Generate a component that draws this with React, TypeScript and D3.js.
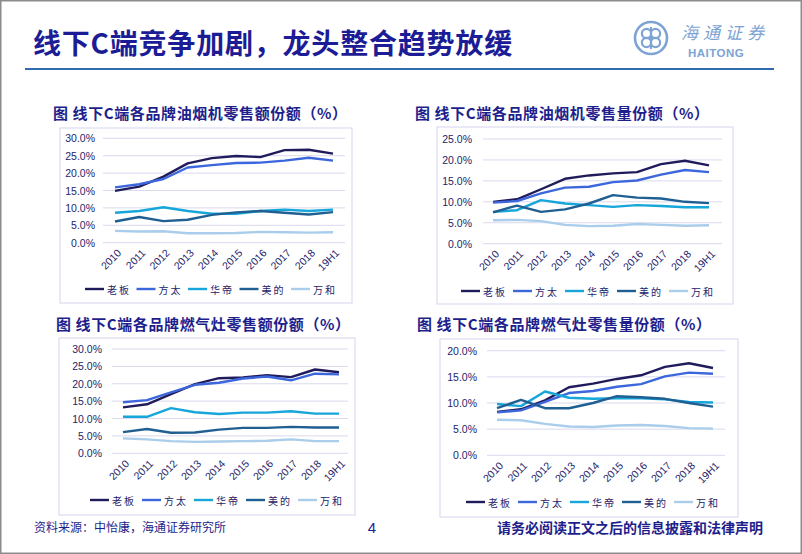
import React from 'react';
import * as d3 from 'd3';

const years = ['2010', '2011', '2012', '2013', '2014', '2015', '2016', '2017', '2018', '19H1'];
const brands = ['老板', '方太', '华帝', '美的', '万和'];
const brandColors = ['#201c5c', '#3c67dc', '#17a6da', '#1f5f92', '#a9cdea'];

// 油烟机零售额份额
const hoodAmtLaoban = [14.9, 16.1, 19.0, 22.8, 24.3, 24.9, 24.6, 26.6, 26.7, 25.6];
const hoodAmtFotile = [15.9, 16.8, 18.3, 21.6, 22.3, 22.9, 23.0, 23.6, 24.4, 23.6];
const hoodAmtVatti = [8.6, 9.1, 10.2, 9.1, 8.3, 8.3, 9.1, 9.5, 9.1, 9.5];
const hoodAmtMidea = [6.1, 7.4, 6.2, 6.6, 8.0, 8.7, 9.1, 8.6, 8.1, 8.8];
const hoodAmtWanhe = [3.4, 3.2, 3.3, 2.7, 2.7, 2.8, 3.1, 3.0, 2.9, 3.0];

// 油烟机零售量份额
const hoodVolLaoban = [10.0, 10.6, 13.0, 15.5, 16.3, 16.8, 17.1, 19.0, 19.8, 18.7];
const hoodVolFotile = [9.8, 10.2, 12.0, 13.4, 13.6, 14.7, 15.1, 16.5, 17.6, 17.1];
const hoodVolVatti = [7.6, 8.0, 10.4, 9.6, 9.2, 8.8, 9.2, 9.0, 8.7, 8.7];
const hoodVolMidea = [7.5, 9.1, 7.6, 8.2, 9.6, 11.6, 11.0, 10.8, 10.0, 9.7];
const hoodVolWanhe = [5.6, 5.7, 5.4, 4.5, 4.2, 4.3, 4.7, 4.5, 4.3, 4.4];

// 燃气灶零售额份额
const stoveAmtLaoban = [13.2, 14.1, 17.0, 19.9, 21.6, 21.8, 22.5, 21.9, 24.1, 23.3];
const stoveAmtFotile = [14.7, 15.3, 17.5, 19.7, 20.3, 21.5, 22.1, 21.0, 22.9, 22.7];
const stoveAmtVatti = [10.5, 10.5, 13.0, 11.8, 11.3, 11.7, 11.7, 12.1, 11.4, 11.4];
const stoveAmtMidea = [6.1, 7.0, 5.9, 6.0, 6.8, 7.3, 7.3, 7.6, 7.4, 7.4];
const stoveAmtWanhe = [4.3, 4.0, 3.5, 3.3, 3.4, 3.5, 3.6, 4.0, 3.5, 3.5];

// 燃气灶零售量份额
const stoveVolLaoban = [8.3, 8.8, 10.5, 13.0, 13.7, 14.6, 15.3, 16.9, 17.6, 16.7];
const stoveVolFotile = [8.2, 8.6, 10.2, 11.9, 12.3, 13.1, 13.6, 15.1, 15.8, 15.6];
const stoveVolVatti = [9.8, 9.4, 12.2, 11.0, 10.8, 10.9, 10.9, 10.7, 10.2, 10.1];
const stoveVolMidea = [9.0, 10.6, 9.0, 9.0, 10.0, 11.3, 11.1, 10.8, 10.0, 9.3];
const stoveVolWanhe = [6.8, 6.7, 6.0, 5.5, 5.4, 5.7, 5.8, 5.6, 5.2, 5.1];

const ticks30 = [0, 5, 10, 15, 20, 25, 30];
const ticks25 = [0, 5, 10, 15, 20, 25];
const ticks20 = [0, 5, 10, 15, 20];

const NAVY = '#1e1e8c';
const TICK = '#24246a';
const GRID = '#d9d9ef';
const CJK = '"Noto Sans CJK SC", "Noto Sans", sans-serif';
const LAT = '"Liberation Sans", Arial, sans-serif';

type PanelProps = {
  title: string;
  titleX: number;
  titleY: number;
  box: [number, number, number, number];
  series: number[][];
  ticks: number[];
  labelX: number;
  gridX: [number, number];
  yRange: [number, number];
  xRange: [number, number];
  legendX: number;
  legendY: number;
  legendStep: number;
};

function Panel(p: PanelProps) {
  const x = d3.scalePoint<string>().domain(years).range(p.xRange);
  const yMax = p.ticks[p.ticks.length - 1];
  const y = d3.scaleLinear().domain([0, yMax]).range(p.yRange);
  const line = d3
    .line<number>()
    .x((_, i) => x(years[i]) as number)
    .y((d) => y(d));
  const [bx0, by0, bx1, by1] = p.box;
  return (
    <g>
      <text x={p.titleX} y={p.titleY} fontFamily={CJK} fontWeight="bold" fontSize={15} letterSpacing={0.6} fill={NAVY} dominantBaseline="central">
        {p.title}
      </text>
      <rect x={bx0} y={by0} width={bx1 - bx0} height={by1 - by0} fill="#fff" stroke="#dcdcf0" strokeWidth={1.2} />
      {p.ticks.map((t) => (
        <g key={t}>
          <line x1={p.gridX[0]} x2={p.gridX[1]} y1={y(t)} y2={y(t)} stroke={GRID} strokeWidth={1} />
          <text x={p.labelX} y={y(t)} textAnchor="end" dominantBaseline="central" fontFamily={LAT} fontSize={10.5} fill={TICK}>
            {t.toFixed(1) + '%'}
          </text>
        </g>
      ))}
      {years.map((yr) => (
        <text
          key={yr}
          transform={`translate(${(x(yr) as number) + 7},${p.yRange[0] + 11}) rotate(-45)`}
          textAnchor="end"
          fontFamily={LAT}
          fontSize={10.5}
          fill={TICK}
        >
          {yr}
        </text>
      ))}
      {p.series.map((s, i) => (
        <path key={i} d={line(s) || ''} fill="none" stroke={brandColors[i]} strokeWidth={2.4} strokeLinejoin="round" />
      ))}
      {brands.map((b, i) => {
        const lx = p.legendX + i * p.legendStep;
        return (
          <g key={b}>
            <line x1={lx} x2={lx + 19} y1={p.legendY} y2={p.legendY} stroke={brandColors[i]} strokeWidth={2.4} />
            <text x={lx + 22} y={p.legendY} dominantBaseline="central" fontFamily={CJK} fontSize={10} letterSpacing={2} fill={TICK}>
              {b}
            </text>
          </g>
        );
      })}
    </g>
  );
}

function Logo() {
  const cx = 651;
  const cy = 38;
  const c = '#7ca3d3';
  return (
    <g>
      <circle cx={cx} cy={cy} r={16} fill="none" stroke={c} strokeWidth={2.6} />
      {[[-4.5, -4.5], [4.5, -4.5], [-4.5, 4.5], [4.5, 4.5]].map(([dx, dy], i) => (
        <circle key={i} cx={cx + dx} cy={cy + dy} r={4.6} fill="none" stroke={c} strokeWidth={2.2} />
      ))}
      <line x1={cx} y1={cy - 11} x2={cx} y2={cy + 11} stroke={c} strokeWidth={2} />
      <text x={681} y={31} fontFamily={CJK} fontStyle="italic" fontSize={17} letterSpacing={5} fill={c} dominantBaseline="central">
        海通证券
      </text>
      <text x={688} y={53} fontFamily={LAT} fontWeight="bold" fontSize={11.5} letterSpacing={0.5} fill={c} dominantBaseline="central">
        HAITONG
      </text>
    </g>
  );
}

export default function App() {
  return (
    <svg width={802} height={554} style={{ position: 'fixed', left: 0, top: 0 }} xmlns="http://www.w3.org/2000/svg">
      <rect x={0} y={0} width={802} height={554} fill="#fff" />
      <rect x={0.75} y={0.75} width={800.5} height={552.5} fill="none" stroke="#8c8c8c" strokeWidth={1.5} />
      <text x={33} y={42} fontFamily={CJK} fontWeight="bold" fontSize={28} letterSpacing={0.8} fill="#1c1c96" dominantBaseline="central">
        线下C端竞争加剧，龙头整合趋势放缓
      </text>
      <line x1={25} x2={774} y1={69} y2={69} stroke="#2f6db0" strokeWidth={2.2} />
      <Logo />

      <Panel
        title="图 线下C端各品牌油烟机零售额份额（%）"
        titleX={53}
        titleY={112}
        box={[60, 128, 352, 303]}
        series={[hoodAmtLaoban, hoodAmtFotile, hoodAmtVatti, hoodAmtMidea, hoodAmtWanhe]}
        ticks={ticks30}
        labelX={95}
        gridX={[103, 345]}
        yRange={[242.7, 138.3]}
        xRange={[115, 333]}
        legendX={85}
        legendY={289}
        legendStep={51.5}
      />
      <Panel
        title="图 线下C端各品牌油烟机零售量份额（%）"
        titleX={415}
        titleY={112}
        box={[437, 127, 733, 304]}
        series={[hoodVolLaoban, hoodVolFotile, hoodVolVatti, hoodVolMidea, hoodVolWanhe]}
        ticks={ticks25}
        labelX={472}
        gridX={[483, 722]}
        yRange={[243.7, 139]}
        xRange={[493, 709]}
        legendX={461}
        legendY={291}
        legendStep={52}
      />
      <Panel
        title="图 线下C端各品牌燃气灶零售额份额（%）"
        titleX={56}
        titleY={323}
        box={[59, 338, 355, 515]}
        series={[stoveAmtLaoban, stoveAmtFotile, stoveAmtVatti, stoveAmtMidea, stoveAmtWanhe]}
        ticks={ticks30}
        labelX={102}
        gridX={[112, 348]}
        yRange={[453.3, 349]}
        xRange={[123, 339]}
        legendX={90}
        legendY={500}
        legendStep={52}
      />
      <Panel
        title="图 线下C端各品牌燃气灶零售量份额（%）"
        titleX={417}
        titleY={323}
        box={[440, 339, 738, 517]}
        series={[stoveVolLaoban, stoveVolFotile, stoveVolVatti, stoveVolMidea, stoveVolWanhe]}
        ticks={ticks20}
        labelX={477}
        gridX={[487, 725]}
        yRange={[455.3, 350.7]}
        xRange={[497, 713]}
        legendX={466}
        legendY={502}
        legendStep={52}
      />

      <text x={34} y={526} fontFamily={CJK} fontSize={12} fill={NAVY} dominantBaseline="central">
        资料来源：中怡康，海通证券研究所
      </text>
      <text x={372} y={527} fontFamily={LAT} fontSize={15} fill={NAVY} dominantBaseline="central" textAnchor="middle">
        4
      </text>
      <text x={497} y={527} fontFamily={CJK} fontWeight="bold" fontSize={14} fill={NAVY} dominantBaseline="central">
        请务必阅读正文之后的信息披露和法律声明
      </text>
    </svg>
  );
}
